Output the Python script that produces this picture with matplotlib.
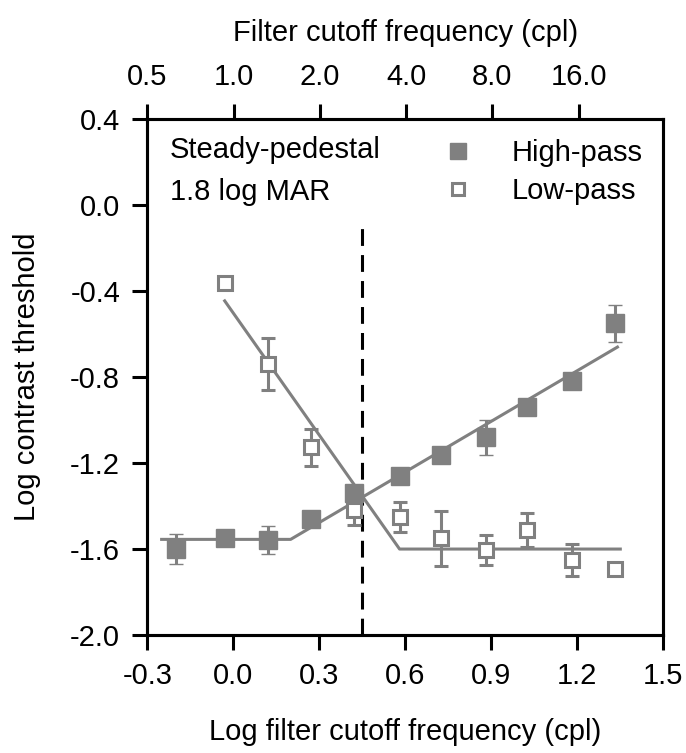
import numpy as np
import matplotlib
matplotlib.use("Agg")
import matplotlib.pyplot as plt
from matplotlib.lines import Line2D

plt.rcParams['font.family'] = ['Liberation Sans', 'DejaVu Sans']

# ---- data ----
hp_x = [-0.20, -0.03, 0.12, 0.27, 0.42, 0.58, 0.725, 0.88, 1.025, 1.18, 1.33]
hp_y = [-1.60, -1.55, -1.56, -1.46, -1.34, -1.26, -1.163, -1.08, -0.94, -0.82, -0.55]
hp_err = [0.07, 0.0, 0.065, 0.03, 0.03, 0.0, 0.0, 0.08, 0.0, 0.0, 0.085]

lp_x = [-0.03, 0.12, 0.27, 0.42, 0.58, 0.725, 0.88, 1.025, 1.18, 1.33]
lp_y = [-0.36, -0.74, -1.127, -1.42, -1.45, -1.55, -1.605, -1.512, -1.651, -1.693]
lp_err = [0.0, 0.12, 0.085, 0.07, 0.07, 0.128, 0.07, 0.08, 0.074, 0.02]

hp_fit_x = [-0.25, 0.20, 1.34]
hp_fit_y = [-1.555, -1.555, -0.66]
lp_fit_x = [-0.03, 0.58, 1.35]
lp_fit_y = [-0.445, -1.60, -1.60]

cutoff_x = 0.448
cutoff_y = [-2.0, -0.09]

x_ticks = [-0.3, 0.0, 0.3, 0.6, 0.9, 1.2, 1.5]
y_ticks = [0.4, 0.0, -0.4, -0.8, -1.2, -1.6, -2.0]
top_freqs = [0.5, 1.0, 2.0, 4.0, 8.0, 16.0]

GRAY = '#808080'
FS = 21
LW = 2.2

fig = plt.figure(figsize=(6.86, 7.53), dpi=100)
ax = fig.add_axes([147.3 / 686, 1 - 635 / 753, 516 / 686, 515.7 / 753])

ax.plot(hp_fit_x, hp_fit_y, color=GRAY, lw=LW, zorder=2)
ax.plot(lp_fit_x, lp_fit_y, color=GRAY, lw=LW, zorder=2)
ax.plot([cutoff_x, cutoff_x], cutoff_y, color='black', lw=LW,
        dashes=(5.5, 3), zorder=1)

ax.errorbar(hp_x, hp_y, yerr=hp_err, fmt='s', color=GRAY, ms=13,
            mec=GRAY, mfc=GRAY, mew=1, ecolor=GRAY, elinewidth=LW,
            capsize=5, capthick=LW, zorder=4)
ax.errorbar(lp_x, lp_y, yerr=lp_err, fmt='s', color=GRAY, ms=10.5,
            mec=GRAY, mfc='white', mew=LW, ecolor=GRAY, elinewidth=LW,
            capsize=5, capthick=LW, zorder=3)

ax.set_xlim(-0.3, 1.5)
ax.set_ylim(-2.0, 0.4)
ax.set_xticks(x_ticks)
ax.set_xticklabels([f"{v:.1f}" for v in x_ticks])
ax.set_yticks(y_ticks)
ax.set_yticklabels([f"{v:.1f}" for v in y_ticks])
ax.tick_params(axis='x', direction='out', length=10.5, width=LW, labelsize=FS, pad=9)
ax.tick_params(axis='y', direction='out', length=10.5, width=LW, labelsize=FS, pad=9)
for s in ax.spines.values():
    s.set_linewidth(LW)

ax.set_xlabel('Log filter cutoff frequency (cpl)', fontsize=FS, labelpad=20)
ax.set_ylabel('Log contrast threshold', fontsize=FS, labelpad=21)

top = ax.twiny()
top.set_xlim(ax.get_xlim())
top.set_xticks(np.log10(top_freqs))
top.set_xticklabels([f"{v:.1f}" for v in top_freqs])
top.tick_params(direction='out', length=10.5, width=LW, labelsize=FS, pad=10)
top.set_xlabel('Filter cutoff frequency (cpl)', fontsize=FS, labelpad=16)
for s in top.spines.values():
    s.set_linewidth(LW)

ax.text(0.044, 0.925, 'Steady-pedestal', transform=ax.transAxes,
        fontsize=FS, va='baseline', ha='left')
ax.text(0.044, 0.8435, '1.8 log MAR', transform=ax.transAxes,
        fontsize=FS, va='baseline', ha='left')

handles = [
    Line2D([], [], ls='none', marker='s', ms=12, mfc=GRAY, mec=GRAY, mew=1),
    Line2D([], [], ls='none', marker='s', ms=9, mfc='white', mec=GRAY, mew=LW),
]
leg = ax.legend(handles, ['High-pass', 'Low-pass'], loc='upper left',
                bbox_to_anchor=(0.585, 0.962), frameon=False, fontsize=FS,
                handlelength=0.6, handletextpad=1.53, labelspacing=0.35,
                borderpad=0, borderaxespad=0)

fig.savefig('out.png', dpi=100)
